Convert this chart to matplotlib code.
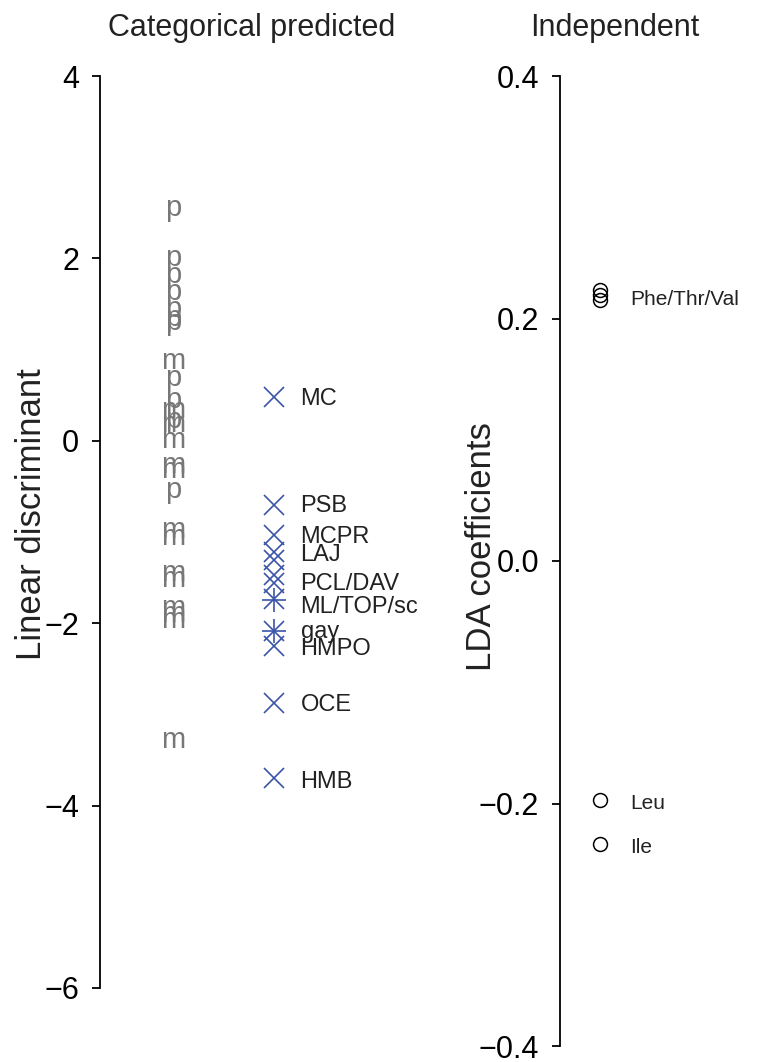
import matplotlib
matplotlib.use('Agg')
import matplotlib.pyplot as plt

plt.rcParams['font.family'] = ['Liberation Sans', 'DejaVu Sans']

# Linear discriminant scores of the categorical samples (p / m)
sample_labels = ['p', 'p', 'p', 'p', 'p', 'p', 'p', 'm', 'p', 'p', 'm', 'p', 'm',
                 'm', 'm', 'm', 'p', 'm', 'm', 'm', 'm', 'm', 'm', 'm', 'm']
sample_ld = [2.55, 2.0, 1.82, 1.63, 1.44, 1.35, 1.30, 0.87, 0.69, 0.45, 0.34, 0.23, 0.18,
             0.01, -0.26, -0.32, -0.54, -0.98, -1.05, -1.45, -1.52, -1.83, -1.90, -1.96, -3.28]

# predicted sites (x markers), plus markers, and their labels
site_x_ld = [0.48, -0.70, -1.03, -1.22, -1.31, -1.47, -1.56, -1.73, -2.09, -2.25, -2.88, -3.70]
site_plus_ld = [-1.75, -2.09]
site_names = ['MC', 'PSB', 'MCPR', 'LAJ', 'PCL/DAV', 'ML/TOP/sc', 'gay', 'HMPO', 'OCE', 'HMB']
site_name_ld = [0.46, -0.72, -1.05, -1.25, -1.57, -1.82, -2.10, -2.28, -2.90, -3.74]

# LDA coefficients
coef_ld = [0.2235, 0.219, 0.215, -0.197, -0.233]
coef_names = ['Phe/Thr/Val', 'Leu', 'Ile']
coef_name_ld = [0.216, -0.200, -0.236]

left_ticks = [4, 2, 0, -2, -4, -6]
right_ticks = [0.4, 0.2, 0.0, -0.2, -0.4]

W, H = 758, 1062
fig = plt.figure(figsize=(W / 100, H / 100), dpi=100)

grey = '#777777'
blue = '#3a55a8'
dark = '#222222'

# ---- left panel
ax1 = fig.add_axes([100 / W, (H - 988) / H, 340 / W, 912 / H])
ax1.set_ylim(-6, 4)
ax1.set_xlim(0.277, 3.64)
for lab, v in zip(sample_labels, sample_ld):
    ax1.text(1, v, lab, color=grey, fontsize=21, ha='center', va='center', clip_on=False)
ax1.plot([2] * len(site_x_ld), site_x_ld, linestyle='none', marker='x', color=blue,
         markersize=14, markeredgewidth=1.2, clip_on=False)
ax1.plot([2] * len(site_plus_ld), site_plus_ld, linestyle='none', marker='+', color=blue,
         markersize=17, markeredgewidth=1.2, clip_on=False)
for name, v in zip(site_names, site_name_ld):
    ax1.annotate(name, (2, v), xytext=(19, 0), textcoords='offset points',
                 fontsize=17, color=dark, ha='left', va='center', annotation_clip=False)
ax1.set_yticks(left_ticks)
ax1.set_yticklabels([str(t).replace('-', '\u2212') for t in left_ticks])
ax1.set_ylabel('Linear discriminant', fontsize=25, color=dark)
ax1.yaxis.set_label_coords(-52 / 340, 0.52)
ax1.set_title('Categorical predicted', fontsize=22, color=dark, x=152 / 340, y=1.0, pad=29)

# ---- right panel
ax2 = fig.add_axes([560 / W, (H - 1046) / H, 198 / W, 970 / H])
ax2.set_ylim(-0.4, 0.4)
ax2.set_xlim(0, 4.95)
ax2.plot([1] * len(coef_ld), coef_ld, linestyle='none', marker='o', markerfacecolor='none',
         markeredgecolor='black', markersize=10, markeredgewidth=1.1, clip_on=False)
for name, v in zip(coef_names, coef_name_ld):
    ax2.annotate(name, (1, v), xytext=(21.5, 0), textcoords='offset points',
                 fontsize=15, color=dark, ha='left', va='center', annotation_clip=False)
ax2.set_yticks(right_ticks)
ax2.set_yticklabels([f'{t:.1f}'.replace('-', '\u2212') for t in right_ticks])
ax2.set_ylabel('LDA coefficients', fontsize=25, color=dark)
ax2.yaxis.set_label_coords(-62 / 198, 0.515)
ax2.set_title('Independent', fontsize=22, color=dark, x=55 / 198, y=1.0, pad=29)

for ax in (ax1, ax2):
    for s in ('top', 'right', 'bottom'):
        ax.spines[s].set_visible(False)
    ax.spines['left'].set_linewidth(1.3)
    ax.set_xticks([])
    ax.tick_params(axis='y', direction='out', length=6, width=1.3, pad=9,
                   labelsize=22, colors='black')
    ax.patch.set_alpha(0)

fig.savefig('out.png', dpi=100, facecolor='white')
